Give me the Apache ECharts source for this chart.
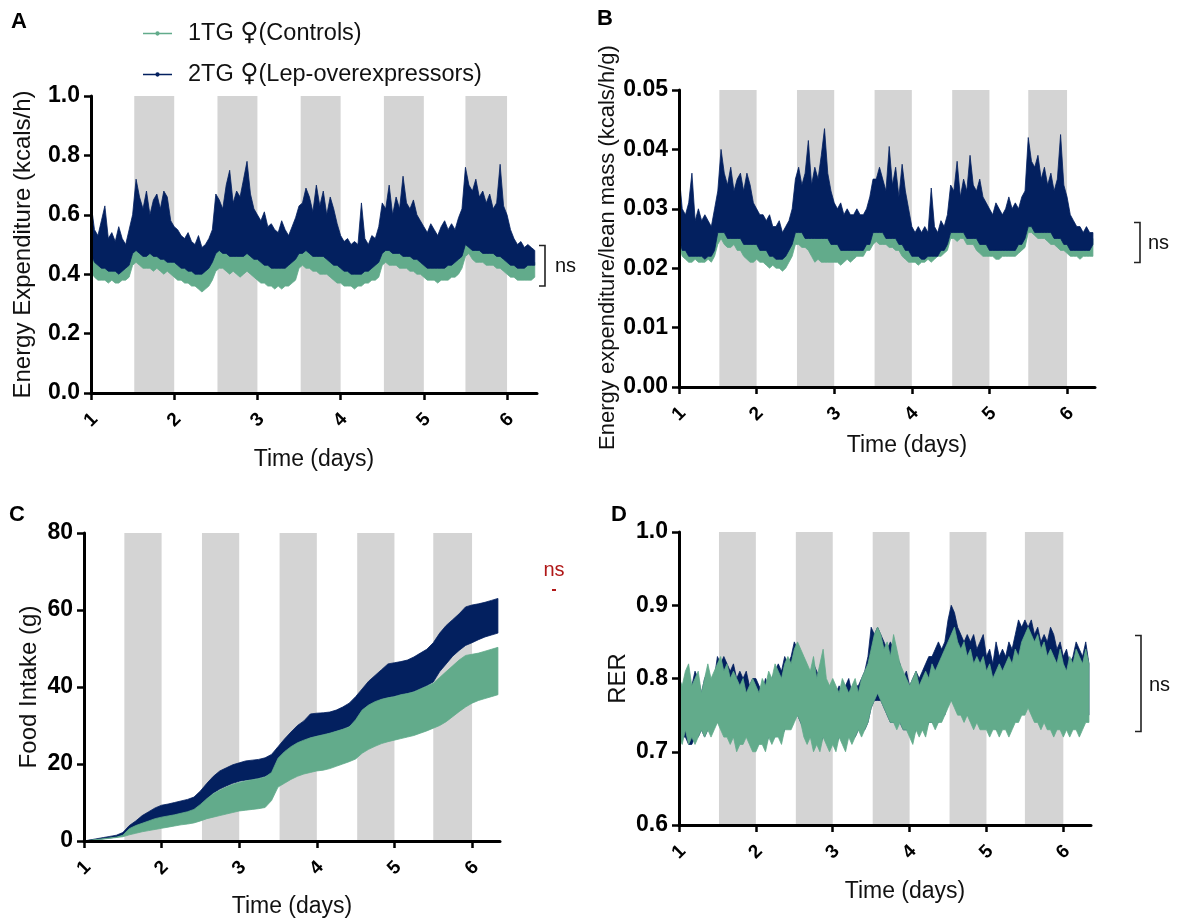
<!DOCTYPE html>
<html>
<head>
<meta charset="utf-8">
<title>Energy expenditure, food intake and RER</title>
<script src="https://cdn.jsdelivr.net/npm/echarts@6/dist/echarts.min.js"></script>
<style>
  html, body { margin: 0; padding: 0; background: #ffffff; }
  #chart { width: 1177px; height: 923px; }
</style>
</head>
<body>
<div id="chart"></div>
<script>
// ---------------------------------------------------------------------------
// Groups and dark phases
// ---------------------------------------------------------------------------
const CTRL = '1TG \u2640(Controls)';
const LEP = '2TG \u2640(Lep-overexpressors)';
const dayTicks = [1, 2, 3, 4, 5, 6];
const darkPhases = [[1.52, 2.0], [2.52, 3.0], [3.52, 4.0], [4.52, 5.0], [5.5, 6.0]];

// ---------------------------------------------------------------------------
// Panel A: energy expenditure (kcals/h), hourly bins, lower/upper bound of mean ± SEM
// ---------------------------------------------------------------------------
const eeLepHigh = [
  0.64,0.55,0.53,0.58,0.63,0.52,0.54,0.51,0.56,0.52,0.50,0.55,
  0.60,0.72,0.66,0.62,0.68,0.60,0.65,0.67,0.62,0.68,0.66,0.58,
  0.56,0.55,0.53,0.52,0.54,0.51,0.50,0.53,0.49,0.50,0.52,0.55,
  0.67,0.65,0.62,0.70,0.75,0.64,0.68,0.66,0.72,0.78,0.67,0.62,
  0.60,0.58,0.61,0.56,0.57,0.55,0.54,0.58,0.55,0.53,0.56,0.59,
  0.63,0.64,0.69,0.66,0.61,0.70,0.63,0.68,0.60,0.66,0.62,0.57,
  0.53,0.51,0.52,0.50,0.51,0.50,0.64,0.52,0.50,0.53,0.52,0.56,
  0.64,0.62,0.70,0.60,0.66,0.62,0.73,0.64,0.62,0.65,0.60,0.58,
  0.56,0.54,0.57,0.55,0.53,0.56,0.58,0.55,0.57,0.55,0.59,0.62,
  0.76,0.70,0.68,0.72,0.66,0.68,0.64,0.67,0.62,0.64,0.77,0.63,
  0.60,0.55,0.52,0.50,0.51,0.49,0.50,0.49,0.48
];
const eeLepLow = [
  0.47,0.44,0.43,0.42,0.42,0.41,0.41,0.41,0.40,0.41,0.42,0.43,
  0.47,0.48,0.47,0.46,0.46,0.47,0.46,0.46,0.45,0.45,0.44,0.44,
  0.44,0.43,0.42,0.42,0.41,0.41,0.40,0.40,0.40,0.41,0.42,0.44,
  0.47,0.48,0.47,0.47,0.46,0.46,0.46,0.46,0.46,0.47,0.46,0.45,
  0.45,0.44,0.43,0.43,0.42,0.42,0.42,0.42,0.42,0.43,0.44,0.45,
  0.47,0.47,0.48,0.47,0.46,0.46,0.46,0.46,0.45,0.44,0.43,0.43,
  0.42,0.41,0.41,0.40,0.40,0.40,0.40,0.41,0.41,0.42,0.43,0.44,
  0.47,0.48,0.48,0.47,0.47,0.47,0.46,0.46,0.46,0.45,0.45,0.44,
  0.43,0.42,0.42,0.42,0.42,0.42,0.42,0.43,0.43,0.44,0.45,0.46,
  0.50,0.49,0.48,0.48,0.48,0.47,0.47,0.47,0.47,0.46,0.46,0.45,
  0.44,0.43,0.43,0.42,0.42,0.42,0.43,0.43,0.43
];
const eeCtrlHigh = [
  0.48,0.46,0.45,0.45,0.44,0.44,0.44,0.43,0.43,0.44,0.45,0.46,
  0.52,0.53,0.51,0.50,0.50,0.50,0.50,0.49,0.49,0.48,0.48,0.47,
  0.47,0.46,0.45,0.45,0.44,0.43,0.43,0.43,0.43,0.44,0.45,0.47,
  0.51,0.52,0.51,0.50,0.50,0.50,0.51,0.49,0.49,0.50,0.49,0.48,
  0.47,0.46,0.45,0.45,0.44,0.44,0.44,0.44,0.44,0.45,0.46,0.47,
  0.51,0.52,0.51,0.50,0.50,0.49,0.49,0.49,0.48,0.47,0.46,0.45,
  0.44,0.43,0.43,0.42,0.42,0.42,0.42,0.43,0.44,0.44,0.45,0.46,
  0.50,0.51,0.51,0.50,0.50,0.50,0.50,0.49,0.49,0.48,0.48,0.47,
  0.46,0.45,0.44,0.44,0.44,0.44,0.44,0.45,0.45,0.46,0.47,0.49,
  0.55,0.54,0.52,0.52,0.51,0.51,0.50,0.50,0.50,0.49,0.49,0.48,
  0.46,0.45,0.45,0.44,0.44,0.44,0.44,0.44,0.44
];
const eeCtrlLow = [
  0.41,0.39,0.38,0.38,0.38,0.37,0.38,0.37,0.37,0.38,0.38,0.39,
  0.43,0.44,0.43,0.42,0.42,0.42,0.41,0.42,0.41,0.40,0.41,0.40,
  0.39,0.38,0.38,0.37,0.37,0.36,0.36,0.35,0.34,0.35,0.36,0.38,
  0.41,0.42,0.42,0.41,0.40,0.41,0.40,0.39,0.40,0.41,0.40,0.39,
  0.38,0.37,0.37,0.36,0.36,0.35,0.36,0.35,0.36,0.36,0.37,0.38,
  0.42,0.43,0.42,0.42,0.41,0.41,0.40,0.40,0.40,0.39,0.38,0.37,
  0.37,0.36,0.36,0.36,0.35,0.36,0.36,0.37,0.37,0.38,0.38,0.39,
  0.43,0.44,0.43,0.43,0.43,0.42,0.42,0.42,0.41,0.41,0.40,0.40,
  0.39,0.38,0.38,0.38,0.37,0.38,0.38,0.38,0.39,0.39,0.40,0.42,
  0.46,0.47,0.45,0.44,0.44,0.44,0.43,0.43,0.43,0.42,0.42,0.41,
  0.40,0.39,0.39,0.38,0.38,0.38,0.38,0.38,0.39
];

// ---------------------------------------------------------------------------
// Panel B: energy expenditure / lean mass (kcals/h/g), hourly bins
// ---------------------------------------------------------------------------
const eeLeanLepHigh = [
  0.036,0.030,0.029,0.031,0.036,0.028,0.030,0.028,0.029,0.028,0.027,0.030,
  0.033,0.040,0.036,0.034,0.037,0.033,0.035,0.036,0.033,0.036,0.034,0.031,
  0.030,0.029,0.029,0.028,0.029,0.027,0.027,0.028,0.026,0.027,0.028,0.030,
  0.035,0.037,0.034,0.036,0.0415,0.034,0.037,0.035,0.039,0.0435,0.036,0.033,
  0.031,0.030,0.031,0.029,0.030,0.029,0.029,0.030,0.029,0.029,0.030,0.032,
  0.035,0.035,0.037,0.035,0.033,0.0405,0.034,0.037,0.032,0.0375,0.033,0.030,
  0.027,0.026,0.027,0.026,0.027,0.026,0.0335,0.027,0.026,0.028,0.027,0.029,
  0.034,0.033,0.038,0.032,0.035,0.033,0.039,0.034,0.033,0.035,0.032,0.031,
  0.030,0.029,0.031,0.030,0.029,0.030,0.032,0.030,0.031,0.030,0.032,0.033,
  0.042,0.038,0.037,0.039,0.035,0.037,0.034,0.036,0.033,0.035,0.0425,0.034,
  0.032,0.029,0.028,0.027,0.027,0.026,0.027,0.026,0.026
];
const eeLeanLepLow = [
  0.025,0.023,0.023,0.022,0.022,0.022,0.022,0.022,0.0215,0.022,0.022,0.023,
  0.026,0.026,0.026,0.025,0.025,0.025,0.025,0.025,0.024,0.024,0.024,0.024,
  0.024,0.023,0.023,0.023,0.022,0.022,0.0215,0.0215,0.0215,0.022,0.023,0.024,
  0.026,0.026,0.026,0.025,0.025,0.025,0.025,0.025,0.025,0.025,0.025,0.024,
  0.024,0.024,0.023,0.023,0.023,0.023,0.023,0.023,0.023,0.023,0.024,0.024,
  0.026,0.026,0.026,0.026,0.025,0.025,0.025,0.025,0.024,0.024,0.023,0.023,
  0.022,0.022,0.022,0.0215,0.0215,0.022,0.022,0.022,0.022,0.023,0.023,0.024,
  0.026,0.026,0.026,0.026,0.026,0.025,0.025,0.025,0.025,0.024,0.024,0.024,
  0.023,0.023,0.023,0.023,0.023,0.023,0.023,0.023,0.023,0.024,0.024,0.025,
  0.027,0.027,0.026,0.026,0.026,0.026,0.026,0.026,0.025,0.025,0.025,0.024,
  0.024,0.023,0.023,0.023,0.023,0.023,0.023,0.023,0.024
];
const eeLeanCtrlHigh = [
  0.027,0.026,0.025,0.025,0.025,0.024,0.025,0.024,0.024,0.024,0.025,0.025,
  0.029,0.030,0.029,0.028,0.028,0.028,0.028,0.027,0.027,0.027,0.026,0.026,
  0.026,0.025,0.025,0.025,0.024,0.024,0.024,0.023,0.023,0.024,0.025,0.026,
  0.028,0.029,0.028,0.028,0.027,0.027,0.027,0.026,0.026,0.027,0.026,0.026,
  0.026,0.025,0.025,0.025,0.025,0.025,0.025,0.025,0.025,0.025,0.026,0.026,
  0.028,0.029,0.028,0.028,0.027,0.027,0.027,0.027,0.026,0.026,0.025,0.025,
  0.024,0.024,0.024,0.023,0.023,0.024,0.024,0.024,0.024,0.025,0.025,0.026,
  0.028,0.029,0.028,0.028,0.028,0.028,0.027,0.027,0.027,0.026,0.026,0.026,
  0.025,0.025,0.025,0.025,0.025,0.025,0.025,0.025,0.025,0.026,0.026,0.027,
  0.030,0.031,0.029,0.029,0.028,0.028,0.028,0.028,0.027,0.027,0.027,0.026,
  0.026,0.025,0.025,0.025,0.025,0.025,0.025,0.025,0.025
];
const eeLeanCtrlLow = [
  0.024,0.022,0.0215,0.021,0.021,0.0215,0.021,0.021,0.021,0.0215,0.021,0.022,
  0.024,0.025,0.024,0.0235,0.0235,0.024,0.023,0.023,0.022,0.0215,0.021,0.021,
  0.0215,0.021,0.021,0.0205,0.020,0.0205,0.020,0.020,0.0195,0.020,0.021,0.022,
  0.024,0.024,0.0235,0.0235,0.023,0.022,0.021,0.0215,0.021,0.021,0.021,0.021,
  0.021,0.021,0.0205,0.021,0.0215,0.021,0.0215,0.022,0.022,0.022,0.023,0.023,
  0.024,0.0245,0.024,0.024,0.024,0.0235,0.0235,0.023,0.023,0.022,0.0215,0.021,
  0.021,0.021,0.0205,0.021,0.021,0.0215,0.021,0.0215,0.022,0.022,0.0225,0.023,
  0.025,0.025,0.0245,0.025,0.025,0.024,0.024,0.024,0.023,0.0225,0.022,0.022,
  0.022,0.022,0.0215,0.0215,0.022,0.022,0.022,0.022,0.022,0.0225,0.023,0.0235,
  0.026,0.026,0.0255,0.025,0.025,0.025,0.0245,0.024,0.024,0.0235,0.023,0.023,
  0.0225,0.022,0.022,0.022,0.0215,0.022,0.022,0.022,0.022
];

// ---------------------------------------------------------------------------
// Panel C: cumulative food intake (g), 2-hour bins
// ---------------------------------------------------------------------------
const foodLepHigh = [
  0,0.3,0.6,0.9,1.2,1.5,2.2,
  4.0,5.2,6.6,7.6,8.6,9.3,
  9.6,10.0,10.4,10.8,11.4,13.0,
  15.0,16.8,18.2,19.0,19.8,20.3,
  20.8,21.0,21.2,21.6,22.5,24.5,
  26.5,28.3,30.0,31.2,33.0,33.2,
  33.3,33.5,34.0,34.8,35.8,37.5,
  39.5,41.5,43.0,44.5,46.0,46.3,
  46.6,47.0,47.8,48.8,49.8,51.5,
  54.0,56.0,57.5,59.0,60.8,61.3,
  61.6,62.0,62.5,63.0
];
const foodLepLow = [
  0,0.2,0.4,0.6,0.8,1.0,1.4,
  2.2,3.0,3.8,4.6,5.2,5.8,
  6.0,6.3,6.6,7.0,7.6,9.0,
  11.0,12.5,13.5,14.3,15.0,15.5,
  15.8,16.0,16.3,16.8,17.5,20.5,
  22.5,24.0,25.0,26.0,26.8,27.3,
  27.6,28.0,28.5,29.0,29.8,31.0,
  33.5,35.0,36.0,36.8,37.3,37.6,
  38.0,38.3,38.8,39.5,40.3,41.3,
  44.0,46.0,48.0,49.5,50.8,51.5,
  52.3,53.0,53.5,54.0
];
const foodCtrlHigh = [
  0,0.2,0.4,0.6,0.8,1.0,1.5,
  3.2,4.0,4.6,5.2,5.8,6.2,
  6.5,6.8,7.2,7.6,8.2,9.5,
  11.0,12.3,13.2,14.0,14.7,15.2,
  15.6,15.9,16.2,16.6,17.8,21.5,
  23.2,24.5,25.5,26.2,26.8,27.2,
  27.6,28.0,28.5,29.0,29.6,31.5,
  34.0,35.3,36.2,36.8,37.2,37.5,
  38.0,38.3,38.7,39.5,40.2,41.0,
  42.5,44.0,45.5,47.0,48.2,48.5,
  48.8,49.3,49.8,50.3
];
const foodCtrlLow = [
  0,0.1,0.3,0.5,0.7,0.9,1.1,
  1.6,2.0,2.4,2.7,3.0,3.3,
  3.6,3.9,4.2,4.4,4.7,5.2,
  5.8,6.2,6.6,7.0,7.4,7.8,
  8.0,8.2,8.4,8.7,10.5,14.0,
  15.0,16.0,16.8,17.4,17.8,18.2,
  18.4,18.8,19.4,20.0,20.6,21.3,
  22.8,23.8,24.6,25.3,25.8,26.2,
  26.6,27.0,27.4,28.0,28.6,29.3,
  30.0,31.0,32.3,33.6,34.8,35.8,
  36.5,37.0,37.5,38.0
];

// ---------------------------------------------------------------------------
// Panel D: respiratory exchange ratio, hourly bins
// ---------------------------------------------------------------------------
const rerLepHigh = [
  0.81,0.78,0.80,0.80,0.79,0.81,0.80,0.78,0.80,0.81,0.79,0.80,
  0.83,0.82,0.83,0.82,0.81,0.82,0.80,0.81,0.80,0.81,0.79,0.80,
  0.80,0.79,0.78,0.80,0.79,0.80,0.81,0.82,0.81,0.83,0.82,0.83,
  0.85,0.84,0.83,0.82,0.81,0.80,0.82,0.81,0.80,0.81,0.79,0.78,
  0.79,0.78,0.79,0.78,0.79,0.80,0.78,0.79,0.79,0.80,0.81,0.83,
  0.87,0.86,0.87,0.86,0.85,0.84,0.85,0.84,0.83,0.82,0.80,0.81,
  0.79,0.80,0.81,0.80,0.81,0.82,0.83,0.83,0.84,0.85,0.84,0.85,
  0.88,0.90,0.89,0.87,0.86,0.85,0.86,0.85,0.86,0.84,0.85,0.86,
  0.83,0.84,0.82,0.85,0.83,0.84,0.83,0.85,0.84,0.86,0.88,0.87,
  0.88,0.87,0.88,0.86,0.87,0.85,0.86,0.85,0.87,0.86,0.84,0.85,
  0.83,0.84,0.82,0.83,0.85,0.84,0.83,0.85,0.82
];
const rerLepLow = [
  0.71,0.72,0.72,0.71,0.71,0.72,0.72,0.73,0.72,0.73,0.73,0.74,
  0.74,0.74,0.73,0.73,0.72,0.72,0.72,0.72,0.72,0.73,0.72,0.72,
  0.72,0.72,0.72,0.71,0.72,0.72,0.72,0.73,0.72,0.73,0.74,0.74,
  0.75,0.75,0.74,0.73,0.72,0.72,0.72,0.72,0.71,0.72,0.72,0.71,
  0.72,0.71,0.72,0.72,0.72,0.72,0.72,0.72,0.73,0.73,0.73,0.74,
  0.76,0.77,0.77,0.77,0.76,0.75,0.74,0.74,0.74,0.74,0.73,0.73,
  0.73,0.72,0.73,0.73,0.73,0.73,0.74,0.74,0.74,0.74,0.75,0.75,
  0.77,0.77,0.77,0.76,0.76,0.75,0.75,0.75,0.75,0.74,0.74,0.74,
  0.74,0.73,0.74,0.73,0.73,0.74,0.74,0.73,0.74,0.75,0.75,0.76,
  0.76,0.77,0.76,0.76,0.75,0.75,0.75,0.75,0.74,0.74,0.74,0.74,
  0.74,0.74,0.73,0.74,0.74,0.73,0.74,0.75,0.75
];
const rerCtrlHigh = [
  0.80,0.79,0.81,0.82,0.79,0.80,0.81,0.78,0.80,0.82,0.80,0.81,
  0.82,0.83,0.81,0.82,0.80,0.81,0.80,0.79,0.80,0.78,0.79,0.80,
  0.79,0.78,0.80,0.79,0.81,0.80,0.82,0.81,0.80,0.82,0.83,0.82,
  0.84,0.85,0.84,0.83,0.82,0.81,0.83,0.80,0.82,0.84,0.80,0.79,
  0.80,0.79,0.78,0.80,0.79,0.78,0.79,0.80,0.78,0.80,0.81,0.82,
  0.84,0.86,0.87,0.86,0.84,0.85,0.83,0.86,0.84,0.82,0.81,0.80,
  0.79,0.80,0.81,0.79,0.80,0.81,0.80,0.82,0.81,0.82,0.83,0.84,
  0.85,0.86,0.87,0.85,0.84,0.85,0.83,0.84,0.82,0.83,0.82,0.83,
  0.81,0.82,0.80,0.81,0.82,0.81,0.82,0.83,0.82,0.84,0.83,0.85,
  0.86,0.87,0.86,0.85,0.86,0.84,0.85,0.83,0.84,0.83,0.82,0.84,
  0.82,0.81,0.83,0.82,0.84,0.83,0.82,0.84,0.82
];
const rerCtrlLow = [
  0.72,0.71,0.73,0.71,0.72,0.71,0.72,0.73,0.72,0.73,0.72,0.73,
  0.74,0.73,0.72,0.72,0.71,0.72,0.70,0.71,0.71,0.72,0.71,0.70,
  0.70,0.71,0.71,0.70,0.72,0.71,0.72,0.72,0.71,0.73,0.73,0.73,
  0.74,0.75,0.74,0.72,0.71,0.72,0.70,0.71,0.70,0.72,0.71,0.70,
  0.71,0.70,0.72,0.71,0.70,0.72,0.71,0.72,0.73,0.72,0.73,0.74,
  0.76,0.77,0.78,0.77,0.76,0.75,0.74,0.74,0.73,0.74,0.73,0.73,
  0.72,0.71,0.73,0.72,0.73,0.72,0.74,0.74,0.73,0.74,0.74,0.75,
  0.76,0.77,0.76,0.75,0.75,0.74,0.75,0.74,0.73,0.74,0.73,0.73,
  0.73,0.72,0.73,0.73,0.72,0.73,0.73,0.72,0.73,0.74,0.74,0.75,
  0.75,0.76,0.75,0.74,0.74,0.73,0.74,0.73,0.73,0.72,0.73,0.73,
  0.72,0.73,0.72,0.73,0.73,0.72,0.73,0.74,0.74
];

// Sampling times (days) for the hourly and 2-hourly bins
const hourlyTimes = eeLepHigh.map((_, i) => 1 + i / 24);
const twoHourTimes = foodLepHigh.map((_, i) => 1 + i / 12);

// ---------------------------------------------------------------------------
// Styling
// ---------------------------------------------------------------------------
const GREEN = '#62ab8b';
const NAVY = '#03205f';
const DARK_PHASE = '#d4d4d4';
const FONT = '"Liberation Sans", Arial, "DejaVu Sans", sans-serif';
// Legend swatch: a short line with a small dot in the middle
const LEGEND_ICON = 'path://M0,2.1L30,2.1L30,3.9L0,3.9Z M17.2,3A2.2,2.2 0 1 1 12.8,3A2.2,2.2 0 1 1 17.2,3Z';

const grids = [
  { left: 91,  top: 96,  width: 446, height: 297 },   // A
  { left: 679, top: 90,  width: 416, height: 297 },   // B
  { left: 84,  top: 533, width: 416, height: 308 },   // C
  { left: 679, top: 532, width: 412, height: 293 }    // D
];

const axisLineStyle = { show: true, lineStyle: { color: '#000', width: 3 } };
const axisTickStyle = { show: true, length: 7, lineStyle: { color: '#000', width: 2.5 } };

function xAxisFor(idx, nameGap, namePadLeft) {
  return {
    type: 'value', gridIndex: idx, min: 1, max: 6.36, z: 10,
    name: 'Time (days)', nameLocation: 'middle', nameGap: nameGap,
    nameTextStyle: { fontFamily: FONT, fontSize: 23, color: '#111', padding: [0, 0, 0, namePadLeft || 0] },
    axisLine: axisLineStyle,
    axisTick: Object.assign({ customValues: dayTicks }, axisTickStyle),
    axisLabel: {
      customValues: dayTicks, rotate: 45, margin: 27, align: 'center', verticalAlign: 'middle',
      fontFamily: FONT, fontWeight: 'bold', fontSize: 19, color: '#000',
      formatter: v => String(Math.round(v))
    },
    splitLine: { show: false }
  };
}

function yAxisFor(idx, cfg) {
  return {
    type: 'value', gridIndex: idx, min: cfg.min, max: cfg.max, interval: cfg.interval, z: 10,
    name: cfg.name, nameLocation: 'middle', nameGap: cfg.nameGap,
    nameTextStyle: { fontFamily: FONT, fontSize: cfg.nameSize, color: '#111', padding: cfg.namePad || 0 },
    axisLine: axisLineStyle,
    axisTick: axisTickStyle,
    axisLabel: {
      margin: 11, fontFamily: FONT, fontWeight: 'bold', fontSize: 23, color: '#000',
      formatter: v => v.toFixed(cfg.digits)
    },
    splitLine: { show: false }
  };
}

// Shaded dark phases, spanning the full height of the plot area
function darkPhaseSeries(idx) {
  return {
    type: 'custom', xAxisIndex: idx, yAxisIndex: idx, silent: true, z: 1,
    data: darkPhases,
    encode: { x: [0, 1] },
    renderItem: (params, api) => {
      const cs = params.coordSys;
      const x0 = api.coord([api.value(0), 0])[0];
      const x1 = api.coord([api.value(1), 0])[0];
      return { type: 'rect', shape: { x: x0, y: cs.y, width: x1 - x0, height: cs.height },
               style: { fill: DARK_PHASE } };
    }
  };
}

// Filled mean ± SEM band, drawn as one polygon through the lower and upper bounds
function bandSeries(idx, name, times, low, high, color) {
  return {
    type: 'custom', name: name, xAxisIndex: idx, yAxisIndex: idx, silent: true, z: 3,
    itemStyle: { color: color },
    data: times.map((t, i) => [t, low[i], high[i]]),
    encode: { x: 0, y: [1, 2] },
    renderItem: (params, api) => {
      if (params.dataIndexInside !== 0) return null;
      const n = params.dataInsideLength;
      const upper = [], lower = [];
      for (let j = 0; j < n; j++) {
        const t = api.value(0, j);
        upper.push(api.coord([t, api.value(2, j)]));
        lower.push(api.coord([t, api.value(1, j)]));
      }
      const c = api.visual('color');
      return { type: 'polygon', shape: { points: upper.concat(lower.reverse()) },
               style: { fill: c, stroke: c, lineWidth: 0.8, lineJoin: 'miter' } };
    }
  };
}

const series = [
  // A: controls underneath, Lep-overexpressors on top
  darkPhaseSeries(0),
  bandSeries(0, CTRL, hourlyTimes, eeCtrlLow, eeCtrlHigh, GREEN),
  bandSeries(0, LEP, hourlyTimes, eeLepLow, eeLepHigh, NAVY),
  // B
  darkPhaseSeries(1),
  bandSeries(1, CTRL, hourlyTimes, eeLeanCtrlLow, eeLeanCtrlHigh, GREEN),
  bandSeries(1, LEP, hourlyTimes, eeLeanLepLow, eeLeanLepHigh, NAVY),
  // C: Lep-overexpressors underneath, controls on top
  darkPhaseSeries(2),
  bandSeries(2, LEP, twoHourTimes, foodLepLow, foodLepHigh, NAVY),
  bandSeries(2, CTRL, twoHourTimes, foodCtrlLow, foodCtrlHigh, GREEN),
  // D
  darkPhaseSeries(3),
  bandSeries(3, LEP, hourlyTimes, rerLepLow, rerLepHigh, NAVY),
  bandSeries(3, CTRL, hourlyTimes, rerCtrlLow, rerCtrlHigh, GREEN)
];

function bracket(x, top, bottom) {
  return {
    type: 'polyline', silent: true,
    shape: { points: [[x - 6, top], [x, top], [x, bottom], [x - 6, bottom]] },
    style: { stroke: '#222', lineWidth: 1.6, fill: null }
  };
}
function label(text, x, y, opts) {
  return {
    type: 'text', silent: true, x: x, y: y,
    style: Object.assign({ text: text, fontFamily: FONT, fontSize: 20, fill: '#111',
      textAlign: 'left', textVerticalAlign: 'middle' }, opts || {})
  };
}

const option = {
  animation: false,
  backgroundColor: '#ffffff',
  grid: grids.map(g => Object.assign({ containLabel: false }, g)),
  xAxis: [
    xAxisFor(0, 55, 0),
    xAxisFor(1, 47, 40),
    xAxisFor(2, 54, 0),
    xAxisFor(3, 55, 40)
  ],
  yAxis: [
    yAxisFor(0, { min: 0, max: 1.0, interval: 0.2, digits: 1, name: 'Energy Expenditure (kcals/h)', nameGap: 56, nameSize: 24 }),
    yAxisFor(1, { min: 0, max: 0.05, interval: 0.01, digits: 2, name: 'Energy expenditure/lean mass (kcals/h/g)', nameGap: 60, nameSize: 22, namePad: [0, 18, 0, 0] }),
    yAxisFor(2, { min: 0, max: 80, interval: 20, digits: 0, name: 'Food Intake (g)', nameGap: 43, nameSize: 24 }),
    yAxisFor(3, { min: 0.6, max: 1.0, interval: 0.1, digits: 1, name: 'RER', nameGap: 49, nameSize: 24 })
  ],
  legend: {
    data: [{ name: CTRL, icon: LEGEND_ICON }, { name: LEP, icon: LEGEND_ICON }],
    orient: 'vertical', left: 138, top: 16, itemGap: 16,
    itemWidth: 29, itemHeight: 5, selectedMode: false,
    formatter: name => name.replace('\u2640', '{sym|\u2640}'),
    textStyle: {
      fontFamily: FONT, fontSize: 23.5, color: '#111', padding: [0, 0, 0, 11],
      rich: { sym: { fontFamily: '"DejaVu Sans", sans-serif', fontSize: 25, color: '#111' } }
    }
  },
  series: series,
  graphic: [
    label('A', 11, 22, { fontWeight: 'bold', fontSize: 22, fill: '#000' }),
    label('B', 597, 19, { fontWeight: 'bold', fontSize: 22, fill: '#000' }),
    label('C', 9, 515, { fontWeight: 'bold', fontSize: 22, fill: '#000' }),
    label('D', 611, 515, { fontWeight: 'bold', fontSize: 22, fill: '#000' }),
    bracket(545, 245.5, 286),
    label('ns', 555, 266),
    bracket(1140, 222.5, 262.5),
    label('ns', 1148, 243),
    bracket(1141, 635.5, 731.5),
    label('ns', 1149, 685),
    label('ns', 554, 570, { textAlign: 'center', fill: '#b01818' }),
    { type: 'rect', silent: true, shape: { x: 552, y: 589, width: 4, height: 2 }, style: { fill: '#b01818' } }
  ]
};

const chart = echarts.init(document.getElementById('chart'), null, { renderer: 'canvas' });
chart.setOption(option);
</script>
</body>
</html>
